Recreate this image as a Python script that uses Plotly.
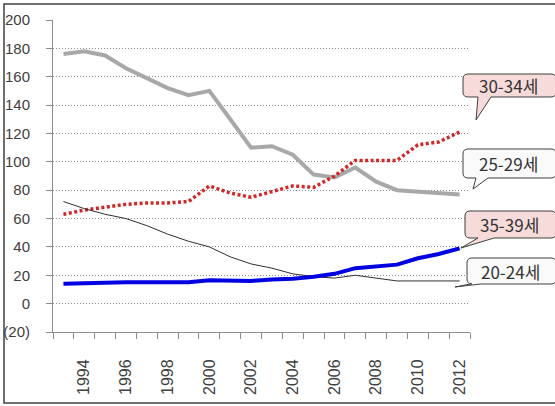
import plotly.graph_objects as go

years = list(range(1993, 2013))
age_20_24 = [72, 67, 63, 60, 55, 49, 44, 40, 33, 28, 25, 21, 19, 18, 20, 18, 16, 16, 16, 16]
age_25_29 = [176, 178, 175, 166, 159, 152, 147, 150, 130, 110, 111, 105, 91, 89, 96, 86, 80, 79, 78, 77]
age_30_34 = [63, 66, 68, 70, 71, 71, 72, 83, 78, 75, 79, 83, 82, 90, 101, 101, 101, 112, 114, 121]
age_35_39 = [14, 14.5, 15, 15, 15, 15, 15, 16.5, 16.5, 16, 17, 17.5, 19, 21, 25, 26.5, 27.5, 32, 35, 39]
y_ticks = [-20, 0, 20, 40, 60, 80, 100, 120, 140, 160, 180, 200]
y_tick_text = ["(20)", "0", "20", "40", "60", "80", "100", "120", "140", "160", "180", "200"]
x_ticks = list(range(1994, 2013, 2))

W, H = 555, 406
L, R, T, B = 53, 85, 20, 74
PW, PH = W - L - R, H - T - B


def paper(x, y):
    return (x - L) / PW, (H - B - y) / PH


def callout(x0, y0, x1, y1, b1, b2, tip, r=5):
    def p(x, y):
        px, py = paper(x, y)
        return f"{px:.5f},{py:.5f}"

    d = f"M {p(x0 + r, y0)} L {p(x1 - r, y0)} Q {p(x1, y0)} {p(x1, y0 + r)} "
    d += f"L {p(x1, y1 - r)} Q {p(x1, y1)} {p(x1 - r, y1)} "
    d += f"L {p(b2, y1)} L {p(*tip)} L {p(b1, y1)} "
    d += f"L {p(x0 + r, y1)} Q {p(x0, y1)} {p(x0, y1 - r)} "
    d += f"L {p(x0, y0 + r)} Q {p(x0, y0)} {p(x0 + r, y0)} Z"
    return d


fig = go.Figure()
fig.add_trace(go.Scatter(x=years, y=age_25_29, mode="lines", line=dict(color="#a8a8a8", width=4)))
fig.add_trace(go.Scatter(x=years, y=age_30_34, mode="lines", line=dict(color="#d02828", width=3.5, dash="3px,2.5px")))
fig.add_trace(go.Scatter(x=years, y=age_20_24, mode="lines", line=dict(color="#303030", width=1)))
fig.add_trace(go.Scatter(x=years, y=age_35_39, mode="lines", line=dict(color="#0000e0", width=4)))

boxes = [
    ("30-34세", (463, 74, 556, 97), 478, 491, (476, 120), "#f7dada"),
    ("25-29세", (463, 149, 556, 178), 476, 488, (473, 189), "#fafafa"),
    ("35-39세", (465, 211, 556, 238), 478, 494, (461, 248), "#f7dada"),
    ("20-24세", (467, 258, 556, 284), 470, 481, (455, 287), "#fafafa"),
]
shapes = [dict(type="rect", xref="paper", yref="paper",
               x0=paper(4, 4)[0], y0=paper(4, 4)[1], x1=paper(562, 403)[0], y1=paper(562, 403)[1],
               line=dict(color="#404040", width=1.5), fillcolor="rgba(0,0,0,0)", layer="below")]
annotations = []
for label, (x0, y0, x1, y1), b1, b2, tip, fill in boxes:
    shapes.append(dict(type="path", xref="paper", yref="paper",
                       path=callout(x0, y0, x1, y1, b1, b2, tip),
                       fillcolor=fill, line=dict(color="#404040", width=1)))
    cx, cy = paper((x0 + 554) / 2, (y0 + y1) / 2)
    annotations.append(dict(x=cx, y=cy, xref="paper", yref="paper", text=label, showarrow=False,
                            xanchor="center", yanchor="middle",
                            font=dict(family="Noto Sans CJK KR", size=17, color="#333333")))

fig.update_layout(
    width=W, height=H,
    margin=dict(l=L, r=R, t=T, b=B),
    paper_bgcolor="white", plot_bgcolor="white",
    showlegend=False,
    shapes=shapes, annotations=annotations,
    font=dict(family="Liberation Sans, Arial", color="#404040"),
)
fig.update_xaxes(
    range=[1992.5, 2012.5], tickvals=x_ticks, ticktext=[str(v) for v in x_ticks],
    tickangle=-90, tickfont=dict(size=16, color="#404040"), ticks="", ticklabelstandoff=20,
    showline=True, linecolor="#8c8c8c", linewidth=1, showgrid=False, zeroline=False, automargin=False,
    minor=dict(tick0=1992.5, dtick=1, ticks="outside", ticklen=6, tickcolor="#8c8c8c", showgrid=False),
)
fig.update_yaxes(
    range=[-20, 200], tickvals=y_ticks, ticktext=y_tick_text,
    tickfont=dict(size=15, color="#404040"), ticks="outside", ticklen=6, tickcolor="#8c8c8c",
    ticklabelstandoff=13, automargin=False,
    showline=True, linecolor="#8c8c8c", linewidth=1,
    showgrid=True, gridcolor="#8a8a8a", gridwidth=1, griddash="1px,2px", zeroline=False,
)
# the page body has a default 8px margin; drop it so the figure sits at 0,0
fig.write_html("out.html", config={"displayModeBar": False},
               post_script="document.body.style.margin='0';")
